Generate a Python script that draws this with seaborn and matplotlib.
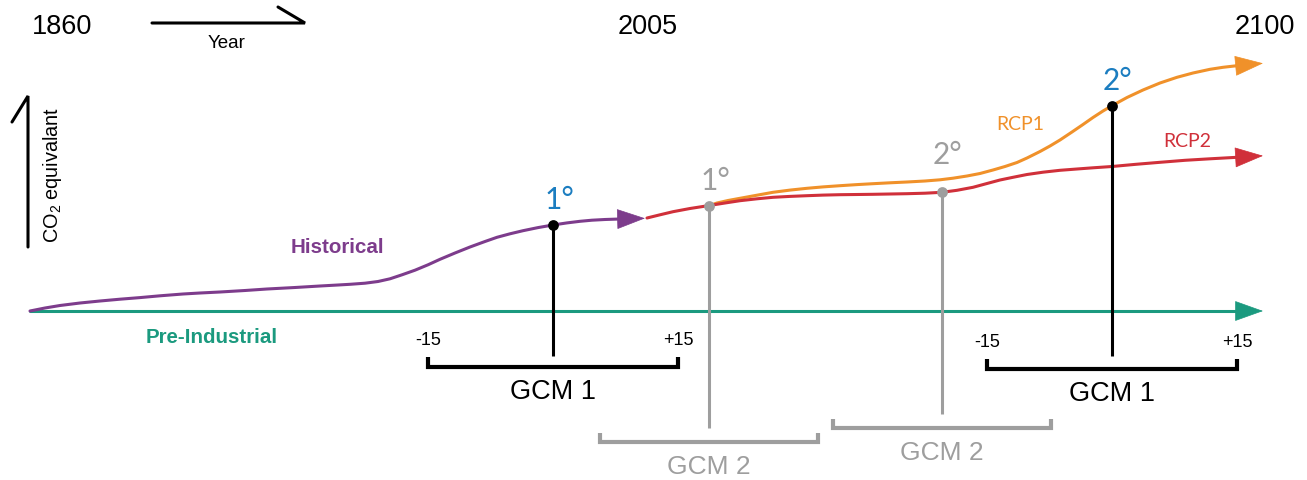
import matplotlib
matplotlib.use("Agg")
import matplotlib.pyplot as plt
import seaborn as sns
import pandas as pd

# ---------------- data (schematic units: x = timeline position, y = CO2 level, screen-down) -------------
preind_x = [30, 1237]
preind_y = [312, 312]
preind_tip = (1263, 312)

hist_x = [30, 45, 60, 80, 100, 120, 140, 160, 183, 200, 220, 245, 267, 295, 320, 338, 350, 365, 378,
          390, 402, 415, 428, 440, 455, 470, 485, 497, 510, 523, 538, 553, 567, 580, 592, 605, 620]
hist_y = [312, 309, 306.5, 304, 302, 300.2, 298.6, 296.8, 295, 294, 293, 291.5, 290, 288.5, 287, 286,
          285.3, 284.2, 282.5, 279.8, 275.8, 271.2, 265.8, 260.3, 254, 248, 242.5, 238.3, 234.8,
          231.7, 228.6, 226, 223.9, 222.3, 221.2, 220.5, 220]
hist_tip = (645, 219.3)

rcp1_x = [709, 717, 728, 740, 757, 773, 790, 807, 823, 840, 857, 873, 890, 907, 925, 940, 953, 967,
          980, 993, 1005, 1017, 1027, 1040, 1050, 1060, 1072, 1083, 1093, 1103, 1112, 1127, 1143,
          1160, 1177, 1193, 1210, 1223, 1237]
rcp1_y = [206.7, 204, 201.5, 199.3, 196.2, 193.3, 191.1, 189.3, 187.9, 186.7, 185.6, 184.7, 183.8,
          183, 182, 180.8, 179.2, 177, 174.5, 171, 167.5, 163.5, 159, 152.5, 147, 141, 133, 125.5,
          118.5, 112, 106.7, 98.5, 91, 84, 78.3, 74, 70.3, 68.3, 66.7]
rcp1_tip = (1263, 64.3)

rcp2_x = [647, 660, 673, 690, 708, 725, 740, 757, 773, 790, 807, 823, 840, 857, 873, 890, 907, 925,
          942, 957, 973, 987, 1000, 1013, 1027, 1043, 1060, 1077, 1093, 1112, 1136, 1160, 1185, 1210, 1237]
rcp2_y = [219, 215.8, 212.7, 209.5, 206.7, 204, 201.7, 199.8, 198.3, 197.4, 196.7, 196.1, 195.7,
          195.5, 195.3, 195, 194.7, 194.2, 193.3, 191.3, 188.3, 184.5, 181, 178.3, 175.5, 173.2,
          171.3, 170, 168.8, 167.5, 165.3, 163.3, 161.3, 159.8, 158.3]
rcp2_tip = (1263, 156.8)

# GCM windows (+/- 15 years)
gcm1_x = [553, 1112]
gcm1_level = [226, 106.7]
gcm1_labels = ["1°", "2°"]
gcm1_stem_bottom = [357, 357]
gcm1_bracket_y = [368, 370]
gcm1_half = 125

gcm2_x = [709, 942]
gcm2_level = [206.7, 193.3]
gcm2_labels = ["1°", "2°"]
gcm2_stem_bottom = [429, 415]
gcm2_bracket_y = [443, 429]
gcm2_half = 109

year_ticks = ["1860", "2005", "2100"]
year_tick_x = [62, 648, 1265]

# ---------------- style ----------------
PURPLE = "#7D3C8C"
TEAL = "#1B9A7F"
ORANGE = "#F0912A"
RED = "#D0303A"
BLUE = "#1B7DC0"
GRAY = "#9E9E9E"
LW = 2.2

sns.set_theme(style="white")
plt.rcParams["font.family"] = ["Liberation Sans", "DejaVu Sans"]
plt.rcParams["mathtext.default"] = "regular"

fig = plt.figure(figsize=(13.07, 4.81), dpi=100)
ax = fig.add_axes([0, 0, 1, 1])


def curve(xs, ys, tip, color, z):
    df = pd.DataFrame({"x": xs, "y": ys})
    sns.lineplot(data=df, x="x", y="y", ax=ax, color=color, linewidth=LW,
                 sort=False, estimator=None, zorder=z)
    ax.annotate("", xy=tip, xytext=(xs[-1], ys[-1]),
                arrowprops=dict(arrowstyle="-|>,head_length=1.9,head_width=0.68",
                                color=color, lw=0.5, shrinkA=0, shrinkB=0,
                                mutation_scale=10),
                zorder=z)


curve(preind_x, preind_y, preind_tip, TEAL, 2)
curve(hist_x, hist_y, hist_tip, PURPLE, 3)
curve(rcp1_x, rcp1_y, rcp1_tip, ORANGE, 3)
curve(rcp2_x, rcp2_y, rcp2_tip, RED, 4)

# GCM 2 (gray)
for x, lvl, lab, sb, by in zip(gcm2_x, gcm2_level, gcm2_labels, gcm2_stem_bottom, gcm2_bracket_y):
    ax.vlines(x, lvl, sb, color=GRAY, lw=LW, zorder=5)
    ax.plot([x - gcm2_half, x - gcm2_half, x + gcm2_half, x + gcm2_half],
            [by - 9, by, by, by - 9], color=GRAY, lw=3.0, solid_joinstyle="miter",
            solid_capstyle="butt", zorder=5)
    ax.text(x, by + 24, "GCM 2", color=GRAY, fontsize=19, ha="center", va="center")
sns.scatterplot(x=gcm2_x, y=gcm2_level, ax=ax, color=GRAY, s=60, linewidth=0, zorder=6)
ax.text(gcm2_x[0] + 6, gcm2_level[0] - 26, gcm2_labels[0], color=GRAY, fontsize=21.5,
        family="Lato", ha="center", va="center")
ax.text(gcm2_x[1] + 6, gcm2_level[1] - 38, gcm2_labels[1], color=GRAY, fontsize=21.5,
        family="Lato", ha="center", va="center")

# GCM 1 (black)
for x, lvl, lab, sb, by in zip(gcm1_x, gcm1_level, gcm1_labels, gcm1_stem_bottom, gcm1_bracket_y):
    ax.vlines(x, lvl, sb, color="black", lw=LW, zorder=7)
    ax.plot([x - gcm1_half, x - gcm1_half, x + gcm1_half, x + gcm1_half],
            [by - 10, by, by, by - 10], color="black", lw=3.0, solid_joinstyle="miter",
            solid_capstyle="butt", zorder=7)
    ax.text(x, by + 24, "GCM 1", color="black", fontsize=19.5, ha="center", va="center")
    ax.text(x - gcm1_half, by - 27, "-15", color="black", fontsize=13, ha="center", va="center")
    ax.text(x + gcm1_half, by - 27, "+15", color="black", fontsize=13, ha="center", va="center")
    ax.text(x + 6, lvl - 26, lab, color=BLUE, fontsize=21.5, family="Lato",
            ha="center", va="center")
sns.scatterplot(x=gcm1_x, y=gcm1_level, ax=ax, color="black", s=60, linewidth=0, zorder=8)

# series labels
ax.text(337, 248, "Historical", color=PURPLE, fontsize=14.8, fontweight="bold", ha="center", va="center")
ax.text(212, 338, "Pre-Industrial", color=TEAL, fontsize=14.8, fontweight="bold", ha="center", va="center")
ax.text(1020, 125, "RCP1", color=ORANGE, fontsize=14, family="Lato", ha="center", va="center")
ax.text(1187, 142, "RCP2", color=RED, fontsize=14, family="Lato", ha="center", va="center")

# year labels and axis arrows
for t, x in zip(year_ticks, year_tick_x):
    ax.text(x, 27, t, color="black", fontsize=19.5, ha="center", va="center")
ax.plot([152, 305, 278], [24, 24, 8], color="black", lw=2.2, solid_joinstyle="miter")
ax.text(227, 43, "Year", color="black", fontsize=13.5, ha="center", va="center")
ax.plot([28, 28, 12], [248, 97, 123], color="black", lw=2.2, solid_joinstyle="miter")
ax.text(52, 175, r"CO$_2$ equivalant", color="black", fontsize=14.3, rotation=90,
        ha="center", va="center")

ax.set_xlim(0, 1307)
ax.set_ylim(481, 0)
ax.axis("off")
fig.savefig("out.png", dpi=100, facecolor="white")
